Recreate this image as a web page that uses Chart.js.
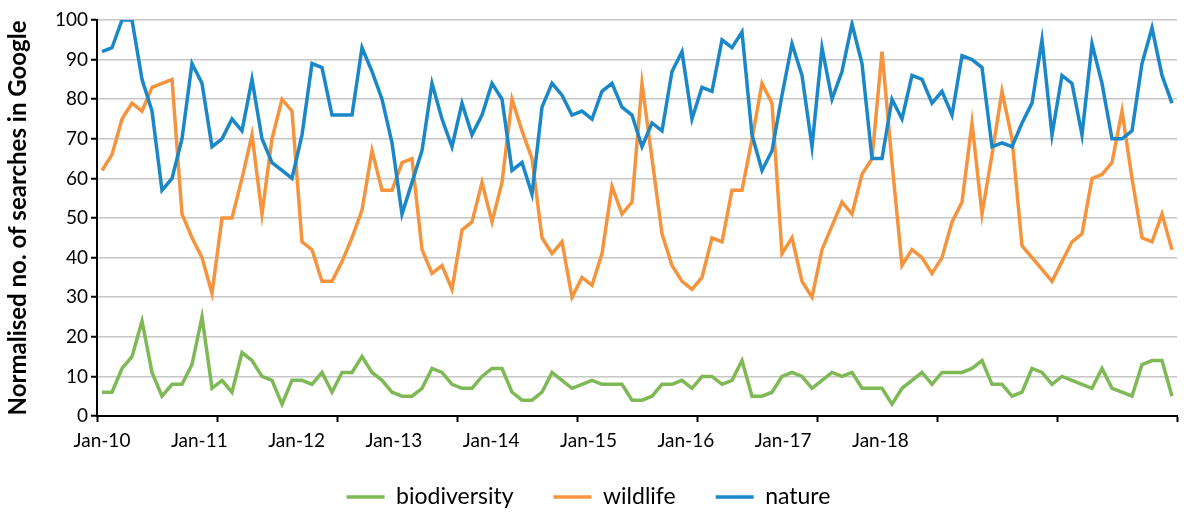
<!DOCTYPE html>
<html>
<head>
<meta charset="utf-8">
<script src="https://cdn.jsdelivr.net/npm/chart.js@4/dist/chart.umd.min.js"></script>
<style>
  body { margin: 0; background: #fff; }
  canvas { display: block; }
</style>
</head>
<body>
<canvas id="trendChart" width="1184" height="513"></canvas>
<script>
// Monthly values, Jan-10 .. Dec-18
const biodiversity = [
  6, 6, 12, 15, 24, 11, 5, 8, 8, 13, 25, 7,
  9, 6, 16, 14, 10, 9, 3, 9, 9, 8, 11, 6,
  11, 11, 15, 11, 9, 6, 5, 5, 7, 12, 11, 8,
  7, 7, 10, 12, 12, 6, 4, 4, 6, 11, 9, 7,
  8, 9, 8, 8, 8, 4, 4, 5, 8, 8, 9, 7,
  10, 10, 8, 9, 14, 5, 5, 6, 10, 11, 10, 7,
  9, 11, 10, 11, 7, 7, 7, 3, 7, 9, 11, 8,
  11, 11, 11, 12, 14, 8, 8, 5, 6, 12, 11, 8,
  10, 9, 8, 7, 12, 7, 6, 5, 13, 14, 14, 5
];
const wildlife = [
  62, 66, 75, 79, 77, 83, 84, 85, 51, 45, 40, 31,
  50, 50, 60, 71, 51, 70, 80, 77, 44, 42, 34, 34,
  39, 45, 52, 67, 57, 57, 64, 65, 42, 36, 38, 32,
  47, 49, 59, 49, 59, 80, 72, 65, 45, 41, 44, 30,
  35, 33, 41, 58, 51, 54, 84, 65, 46, 38, 34, 32,
  35, 45, 44, 57, 57, 70, 84, 79, 41, 45, 34, 30,
  42, 48, 54, 51, 61, 65, 92, 64, 38, 42, 40, 36,
  40, 49, 54, 74, 51, 66, 82, 70, 43, 40, 37, 34,
  39, 44, 46, 60, 61, 64, 77, 60, 45, 44, 51, 42
];
const nature = [
  92, 93, 100, 100, 85, 77, 57, 60, 70, 89, 84, 68,
  70, 75, 72, 85, 70, 64, 62, 60, 71, 89, 88, 76,
  76, 76, 93, 87, 80, 69, 51, 59, 67, 84, 75, 68,
  79, 71, 76, 84, 80, 62, 64, 56, 78, 84, 81, 76,
  77, 75, 82, 84, 78, 76, 68, 74, 72, 87, 92, 75,
  83, 82, 95, 93, 97, 71, 62, 67, 81, 94, 86, 68,
  93, 80, 87, 99, 89, 65, 65, 80, 75, 86, 85, 79,
  82, 76, 91, 90, 88, 68, 69, 68, 74, 79, 95, 71,
  86, 84, 71, 94, 84, 70, 70, 72, 89, 98, 86, 79
];
const tickLabels = ['Jan-10', 'Jan-11', 'Jan-12', 'Jan-13', 'Jan-14', 'Jan-15', 'Jan-16', 'Jan-17', 'Jan-18'];

const labelStep = 9.73; // labels in the reference sit a bit closer than one year apart
const lastIndex = nature.length - 1;
const tickFont = { family: 'Lato', size: 19 };

function toPoints(values) {
  return values.map((v, i) => ({ x: i, y: v }));
}

const ctx = document.getElementById('trendChart').getContext('2d');
new Chart(ctx, {
  type: 'line',
  data: {
    datasets: [
      { label: 'biodiversity', data: toPoints(biodiversity), borderColor: '#7EB956', backgroundColor: '#7EB956', order: 2 },
      { label: 'wildlife', data: toPoints(wildlife), borderColor: '#F5943D', backgroundColor: '#F5943D', order: 1 },
      { label: 'nature', data: toPoints(nature), borderColor: '#1A87C8', backgroundColor: '#1A87C8', order: 0 }
    ]
  },
  options: {
    responsive: false,
    animation: false,
    devicePixelRatio: 1,
    elements: {
      line: { tension: 0, borderWidth: 3.5 },
      point: { radius: 0, borderWidth: 3.5 } // borderWidth only feeds the legend line
    },
    layout: { padding: { top: 20, right: 7, left: 0, bottom: -5.5 } },
    plugins: {
      tooltip: { enabled: false },
      legend: {
        position: 'bottom',
        labels: {
          usePointStyle: true,
          pointStyle: 'line',
          pointStyleWidth: 38,
          padding: 40,
          color: '#000',
          font: { family: 'Lato', size: 23 },
          sort: (a, b) => a.datasetIndex - b.datasetIndex
        }
      }
    },
    scales: {
      // year tick marks only
      x: {
        type: 'linear',
        min: -0.5,
        max: lastIndex + 0.5,
        afterBuildTicks: (scale) => {
          const ticks = [];
          for (let v = -0.5; v <= lastIndex + 0.5; v += 12) ticks.push({ value: v });
          scale.ticks = ticks;
        },
        ticks: { display: false },
        grid: { drawOnChartArea: false, tickLength: 6, tickColor: '#000', tickWidth: 2 },
        border: { color: '#000', width: 2 },
        afterFit: (scale) => { scale.height = 6; }
      },
      // text labels, spaced as in the reference
      xl: {
        type: 'linear',
        position: 'bottom',
        min: -0.5,
        max: lastIndex + 0.5,
        afterBuildTicks: (scale) => {
          scale.ticks = tickLabels.map((t, k) => ({ value: k * labelStep }));
        },
        ticks: {
          autoSkip: false,
          maxRotation: 0,
          padding: 7,
          color: '#000',
          font: tickFont,
          callback: (value, index) => tickLabels[index]
        },
        grid: { display: false, drawTicks: false },
        border: { display: false },
        afterFit: (scale) => {
          scale.height = 23.5;
          scale._computeLabelArea = () => undefined; // don't clip labels to the thin box
        }
      },
      y: {
        min: 0,
        max: 100,
        ticks: { stepSize: 10, padding: 3, color: '#000', font: tickFont },
        grid: { color: '#C6C6C6', lineWidth: 1.5, tickLength: 6, tickColor: '#000', tickWidth: 2 },
        border: { color: '#000', width: 2 },
        title: {
          display: true,
          text: 'Normalised no. of searches in Google',
          color: '#000',
          font: { family: 'Lato', size: 24, weight: 'bold' },
          padding: { top: 4, bottom: 0 }
        },
        afterFit: (scale) => { scale.width = 97; }
      }
    }
  }
});
</script>
</body>
</html>
